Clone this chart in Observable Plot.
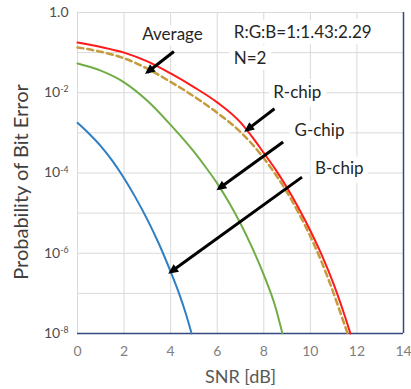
<!DOCTYPE html>
<html><head><meta charset="utf-8">
<script src="https://cdn.jsdelivr.net/npm/d3@7"></script>
<script src="https://cdn.jsdelivr.net/npm/@observablehq/plot@0.6"></script>
<style>
html,body{margin:0;padding:0;background:#fff;}
#chart svg{display:block;}
</style></head><body><div id="chart"></div>
<script>
// ---- data ----
const snrRed = [0,1,2,3,4,5,6,7,7.5,8,8.5,9,9.5,10,10.5,11,11.5,11.72];
const berRed = [0.178,0.138,0.1,0.0603,0.0302,0.0138,5.75e-3,1.82e-3,7.94e-4,3.16e-4,1.23e-4,4.27e-5,1.32e-5,3.63e-6,8.7e-7,1.7e-7,2.51e-8,1e-8];

const snrAvg = [0,1,2,3,4,5,6,7,7.5,8,8.5,9,9.5,10,10.5,11,11.3,11.6];
const berAvg = [0.135,0.105,0.0724,0.0398,0.0186,8.13e-3,3.16e-3,1.05e-3,5.25e-4,2.34e-4,9.3e-5,3.31e-5,1e-5,2.63e-6,5.75e-7,1e-7,3.16e-8,1e-8];

const snrGreen = [0,1,2,3,4,5,5.5,6,6.5,7,7.5,8,8.5,8.8];
const berGreen = [0.0537,0.0355,0.0182,6.31e-3,1.58e-3,3.39e-4,1.41e-4,5.5e-5,1.86e-5,5.5e-6,1.38e-6,2.88e-7,4.57e-8,1e-8];

const snrBlue = [0,0.5,1,1.5,2,2.5,3,3.5,4,4.36,4.65,4.9];
const berBlue = [1.78e-3,9.5e-4,4.68e-4,2.0e-4,7.4e-5,2.4e-5,6.9e-6,1.7e-6,3.47e-7,1e-7,3.16e-8,1e-8];

const xTicks = [0,2,4,6,8,10,12,14];
const yTicks = [1,1e-2,1e-4,1e-6,1e-8];
const yTickLabels = ["1.0","10^-2","10^-4","10^-6","10^-8"];
const yGrid = [1,1e-1,1e-2,1e-3,1e-4,1e-5,1e-6,1e-7];
const xGrid = [0,2,4,6,8,10,12];

// annotation texts (centered) and (left-aligned)
const centerLabels = ["Average","R-chip","G-chip","B-chip"];
const centerSnr = [4.08,9.44,10.39,11.24];
const centerBer = [0.279,0.01,1.15e-3,1.29e-4];
const leftLabels = ["R:G:B=1:1.43:2.29","N=2"];
const leftSnr = [6.71,6.71];
const leftBer = [0.313,0.0708];

const arrowFromSnr = [4.14,8.46,8.83,9.64];
const arrowFromBer = [0.107,3.98e-3,5.9e-4,7.9e-5];
const arrowToSnr = [3.0,7.26,6.07,4.0];
const arrowToBer = [0.0324,1.17e-3,4.1e-5,3.4e-7];

// ---- build tables ----
const toRows = (xs, ys) => xs.map((x, i) => ({snr: x, ber: ys[i]}));
const red = toRows(snrRed, berRed);
const avg = toRows(snrAvg, berAvg);
const green = toRows(snrGreen, berGreen);
const blue = toRows(snrBlue, berBlue);
const cAnn = centerLabels.map((t, i) => ({t, x: centerSnr[i], y: centerBer[i]}));
const lAnn = leftLabels.map((t, i) => ({t, x: leftSnr[i], y: leftBer[i]}));
const arrows = arrowFromSnr.map((_, i) => ({x1: arrowFromSnr[i], y1: arrowFromBer[i], x2: arrowToSnr[i], y2: arrowToBer[i]}));
const yLabelOf = new Map(yTicks.map((v, i) => [v, yTickLabels[i]]));

const navy = "#34487e";
const gridC = "#d9d9d9";
const annStyle = {fontSize: 17, fill: "#262626", stroke: "white", strokeWidth: 12, strokeLinejoin: "round", paintOrder: "stroke"};

const chart = Plot.plot({
  width: 411, height: 389,
  marginLeft: 77, marginRight: 8, marginTop: 12, marginBottom: 56,
  style: {fontFamily: "Lato, 'Open Sans', sans-serif", background: "#fff"},
  x: {domain: [0, 14]},
  y: {type: "log", domain: [1e-8, 1]},
  marks: [
    Plot.ruleY(yGrid, {stroke: gridC, strokeWidth: 1}),
    Plot.ruleX(xGrid, {stroke: gridC, strokeWidth: 1}),
    Plot.ruleY([1e-8], {stroke: navy, strokeWidth: 1.5}),
    Plot.ruleX([14], {stroke: navy, strokeWidth: 1.5}),
    Plot.line(blue, {x: "snr", y: "ber", stroke: "#2f7fc4", strokeWidth: 2, curve: "monotone-x"}),
    Plot.line(green, {x: "snr", y: "ber", stroke: "#70ad47", strokeWidth: 2, curve: "monotone-x"}),
    Plot.line(avg, {x: "snr", y: "ber", stroke: "#c59b3c", strokeWidth: 2.5, strokeDasharray: "6,4", curve: "monotone-x"}),
    Plot.line(red, {x: "snr", y: "ber", stroke: "#ff1a1a", strokeWidth: 2, curve: "monotone-x"}),
    Plot.axisX({ticks: xTicks, tickSize: 0, tickPadding: 13, fontSize: 14, fill: "#808080", label: null}),
    Plot.axisY({ticks: yTicks, tickFormat: d => yLabelOf.get(d), tickSize: 0, tickPadding: 9, fontSize: 14, fill: "#4d4d4d", label: null}),
    Plot.text(["SNR [dB]"], {frameAnchor: "bottom", dy: 49, fontSize: 18, fill: "#595959"}),
    Plot.text(["Probability of Bit Error"], {frameAnchor: "left", textAnchor: "middle", dx: -56, dy: 9, rotate: -90, fontSize: 20, fill: "#404040"}),
    Plot.text(cAnn, {x: "x", y: "y", text: "t", textAnchor: "middle", ...annStyle}),
    Plot.text(lAnn, {x: "x", y: "y", text: "t", textAnchor: "start", ...annStyle}),
    Plot.link(arrows, {x1: "x1", y1: "y1", x2: "x2", y2: "y2", stroke: "black", strokeWidth: 3, markerEnd: "arrow"})
  ]
});

// filled arrowheads
chart.querySelectorAll("marker").forEach(m => {
  m.setAttribute("fill", "black");
  m.setAttribute("stroke", "none");
  m.innerHTML = "";
  const p = document.createElementNS("http://www.w3.org/2000/svg", "path");
  p.setAttribute("d", "M1.5,0L-3.5,-2.3L-3.5,2.3Z");
  m.appendChild(p);
});

// superscript exponents on y tick labels
chart.querySelectorAll('g[aria-label="y-axis tick label"] text').forEach(t => {
  const s = t.textContent;
  if (s.startsWith("10^")) {
    t.textContent = "10";
    const sup = document.createElementNS("http://www.w3.org/2000/svg", "tspan");
    sup.setAttribute("dy", "-0.55em");
    sup.setAttribute("font-size", "0.62em");
    sup.textContent = s.slice(3);
    t.appendChild(sup);
  }
});

document.getElementById("chart").appendChild(chart);
</script>
</body></html>
